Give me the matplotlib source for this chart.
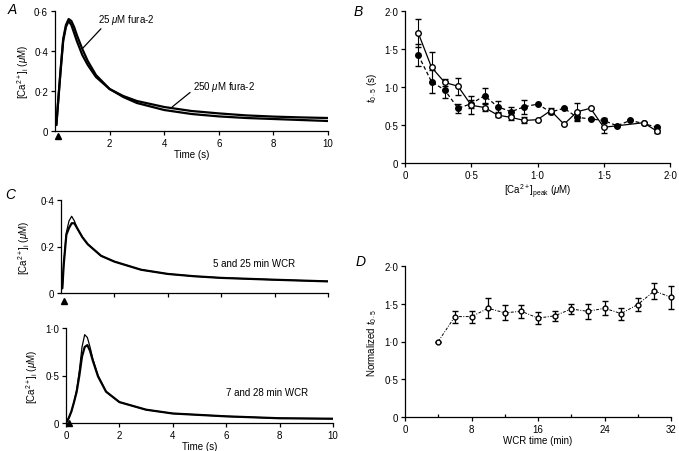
import matplotlib
matplotlib.use("Agg")
import matplotlib.pyplot as plt

plt.rcParams['font.family'] = ['Liberation Sans', 'DejaVu Sans']
plt.rcParams['font.size'] = 7
plt.rcParams['mathtext.fontset'] = 'custom'
plt.rcParams['mathtext.rm'] = 'Liberation Sans'
plt.rcParams['mathtext.it'] = 'Liberation Sans:italic'

# ---- panel A: averaged Ca transients, 25 vs 250 uM fura-2
t_a = [0, 0.05, 0.1, 0.2, 0.3, 0.4, 0.5, 0.6, 0.7, 0.8, 1.0, 1.2, 1.5, 2, 2.5, 3, 4, 5, 6, 7, 8, 9, 10]
ca_25 = [0.03, 0.03, 0.12, 0.30, 0.46, 0.53, 0.56, 0.55, 0.52, 0.48, 0.41, 0.35, 0.28, 0.21, 0.17,
         0.14, 0.105, 0.085, 0.073, 0.065, 0.06, 0.055, 0.05]
ca_250 = [0.03, 0.03, 0.12, 0.29, 0.45, 0.52, 0.55, 0.53, 0.49, 0.45, 0.38, 0.33, 0.27, 0.21, 0.175,
          0.15, 0.12, 0.10, 0.088, 0.078, 0.072, 0.068, 0.065]

# ---- panel B: t0.5 vs peak Ca
peak_open = [0.1, 0.2, 0.3, 0.4, 0.5, 0.6, 0.7, 0.8, 0.9, 1.0, 1.1, 1.2, 1.3, 1.4, 1.5, 1.8, 1.9]
t05_open = [1.71, 1.26, 1.06, 1.01, 0.76, 0.73, 0.63, 0.60, 0.56, 0.57, 0.69, 0.51, 0.675, 0.72, 0.47, 0.53, 0.42]
err_open = [0.18, 0.20, 0.05, 0.11, 0.12, 0.05, 0.03, 0.03, 0.04, 0.0, 0.03, 0.0, 0.11, 0.0, 0.08, 0.0, 0.02]
peak_fill = [0.1, 0.2, 0.3, 0.4, 0.5, 0.6, 0.7, 0.8, 0.9, 1.0, 1.1, 1.2, 1.3, 1.4, 1.5, 1.6, 1.7, 1.8, 1.9]
t05_fill = [1.42, 1.07, 0.96, 0.72, 0.78, 0.885, 0.74, 0.675, 0.74, 0.775, 0.67, 0.72, 0.60, 0.58, 0.56,
            0.49, 0.56, 0.52, 0.47]
err_fill = [0.15, 0.15, 0.10, 0.06, 0.05, 0.10, 0.07, 0.06, 0.09, 0.0, 0.03, 0.0, 0.05, 0.0, 0.03, 0.0, 0.0, 0.0, 0.0]

# ---- panel C: transients early vs late in whole-cell recording
t_c1 = [0, 0.05, 0.1, 0.2, 0.3, 0.4, 0.5, 0.6, 0.8, 1.0, 1.5, 2, 3, 4, 5, 6, 8, 10]
ca_5min = [0.02, 0.02, 0.12, 0.26, 0.31, 0.33, 0.31, 0.28, 0.24, 0.21, 0.16, 0.135, 0.10, 0.082, 0.072,
           0.065, 0.057, 0.05]
ca_25min = [0.02, 0.02, 0.12, 0.25, 0.28, 0.30, 0.30, 0.28, 0.24, 0.21, 0.16, 0.135, 0.10, 0.082, 0.072,
            0.065, 0.057, 0.05]
t_c2 = [0, 0.1, 0.2, 0.3, 0.4, 0.5, 0.6, 0.7, 0.8, 0.9, 1.0, 1.2, 1.5, 2, 3, 4, 6, 8, 10]
ca_7min = [0.0, 0.05, 0.12, 0.22, 0.35, 0.55, 0.80, 0.93, 0.90, 0.80, 0.68, 0.50, 0.33, 0.22, 0.14,
           0.10, 0.07, 0.05, 0.045]
ca_28min = [0.0, 0.05, 0.12, 0.22, 0.33, 0.50, 0.70, 0.80, 0.82, 0.76, 0.66, 0.49, 0.33, 0.22, 0.14,
            0.10, 0.07, 0.05, 0.045]

# ---- panel D: normalized t0.5 vs WCR time
wcr_time = [4, 6, 8, 10, 12, 14, 16, 18, 20, 22, 24, 26, 28, 30, 32]
norm_t05 = [1.0, 1.33, 1.33, 1.44, 1.38, 1.40, 1.31, 1.34, 1.43, 1.40, 1.44, 1.37, 1.49, 1.67, 1.585]
norm_err = [0.0, 0.08, 0.08, 0.13, 0.10, 0.09, 0.08, 0.07, 0.07, 0.10, 0.09, 0.08, 0.08, 0.11, 0.15]

W, H = 679, 452
fig = plt.figure(figsize=(W / 100, H / 100), dpi=100)


def box(l, t, r, b):
    return [l / W, 1 - b / H, (r - l) / W, (b - t) / H]


def style(ax):
    for s in ['top', 'right']:
        ax.spines[s].set_visible(False)
    for s in ['left', 'bottom']:
        ax.spines[s].set_linewidth(0.9)
    ax.tick_params(direction='out', length=3, width=0.9, labelsize=7, pad=2)


def stim(ax, y):
    # stimulus arrowhead under the time axis
    ax.plot([0.1], [y], marker='^', color='k', markersize=4, clip_on=False)


ca_label = r'[Ca$^{2+}$]$_\mathrm{i}$ ($\mu$M)'

# A
a = fig.add_axes(box(55, 12, 328, 132))
style(a)
a.plot(t_a, ca_25, color='k', lw=1.6)
a.plot(t_a, ca_250, color='k', lw=1.6)
a.set_xlim(0, 10)
a.set_ylim(0, 0.6)
a.set_xticks([2, 4, 6, 8, 10])
a.set_yticks([0, 0.2, 0.4, 0.6])
a.set_yticklabels(['0', '0·2', '0·4', '0·6'])
a.set_xlabel('Time (s)', labelpad=1)
a.set_ylabel(ca_label, labelpad=2)
a.annotate(r'25 $\mu$M fura-2', xy=(0.99, 0.41), xytext=(1.57, 0.56), va='center',
           arrowprops=dict(arrowstyle='-', color='k', lw=0.9, shrinkA=0, shrinkB=0,
                           relpos=(0.1, 0)))
a.annotate(r'250 $\mu$M fura-2', xy=(4.29, 0.12), xytext=(5.05, 0.225), va='center',
           arrowprops=dict(arrowstyle='-', color='k', lw=0.9, shrinkA=0, shrinkB=0,
                           relpos=(0, 0.2)))
stim(a, -0.025)

# B
b = fig.add_axes(box(405, 12, 670, 164))
style(b)
b.errorbar(peak_fill, t05_fill, yerr=err_fill, fmt='o', ls=(0, (3, 2)), color='k', lw=0.9,
           ms=4, mfc='k', capsize=2.5, elinewidth=0.8)
b.errorbar(peak_open, t05_open, yerr=err_open, fmt='o', ls='-', color='k', lw=0.9,
           ms=4, mfc='white', capsize=2.5, elinewidth=0.8)
b.set_xlim(0, 2.0)
b.set_ylim(0, 2.0)
b.set_xticks([0, 0.5, 1.0, 1.5, 2.0])
b.set_xticklabels(['0', '0·5', '1·0', '1·5', '2·0'])
b.set_yticks([0, 0.5, 1.0, 1.5, 2.0])
b.set_yticklabels(['0', '0·5', '1·0', '1·5', '2·0'])
b.set_xlabel(r'[Ca$^{2+}$]$_\mathrm{peak}$ ($\mu$M)', labelpad=1)
b.set_ylabel(r'$t_{0\cdot5}$ (s)', labelpad=4)

# C top
c1 = fig.add_axes(box(61, 201, 328, 294))
style(c1)
c1.plot(t_c1, ca_5min, color='k', lw=0.9)
c1.plot(t_c1, ca_25min, color='k', lw=1.6)
c1.set_xlim(0, 10)
c1.set_ylim(0, 0.4)
c1.set_xticks([2, 4, 6, 8, 10])
c1.set_xticklabels([])
c1.set_yticks([0, 0.2, 0.4])
c1.set_yticklabels(['0', '0·2', '0·4'])
c1.set_ylabel(ca_label, labelpad=6)
c1.text(5.7, 0.13, '5 and 25 min WCR', va='center')
stim(c1, -0.035)

# C bottom
c2 = fig.add_axes(box(66, 329, 333, 424))
style(c2)
c2.plot(t_c2, ca_7min, color='k', lw=0.9)
c2.plot(t_c2, ca_28min, color='k', lw=1.6)
c2.set_xlim(0, 10)
c2.set_ylim(0, 1.0)
c2.set_xticks([0, 2, 4, 6, 8, 10])
c2.set_yticks([0, 0.5, 1.0])
c2.set_yticklabels(['0', '0·5', '1·0'])
c2.set_ylabel(ca_label, labelpad=4)
c2.set_xlabel('Time (s)', labelpad=1)
c2.text(6.0, 0.33, '7 and 28 min WCR', va='center')
stim(c2, 0.0)

# D
d = fig.add_axes(box(405, 267, 671, 418))
style(d)
d.errorbar(wcr_time, norm_t05, yerr=norm_err, fmt='o', ls=(0, (3, 1.5, 1, 1.5)), color='k',
           lw=0.7, ms=3.5, mfc='white', capsize=2.5, elinewidth=0.9, clip_on=False)
d.set_xlim(0, 32)
d.set_ylim(0, 2.0)
d.set_xticks([0, 8, 16, 24, 32])
d.set_xticks([4, 12, 20, 28], minor=True)
d.tick_params(which='minor', direction='in', length=2.5, width=0.9)
d.set_yticks([0, 0.5, 1.0, 1.5, 2.0])
d.set_yticklabels(['0', '0·5', '1·0', '1·5', '2·0'])
d.set_xlabel('WCR time (min)', labelpad=1)
d.set_ylabel(r'Normalized $t_{0\cdot5}$', labelpad=4)

# panel letters
for letter, x, y in [('A', 12, 10), ('B', 358, 12), ('C', 10, 195), ('D', 361, 262)]:
    fig.text(x / W, 1 - y / H, letter, fontsize=10, style='italic', va='center', ha='center')

fig.savefig('out.png', dpi=100)
